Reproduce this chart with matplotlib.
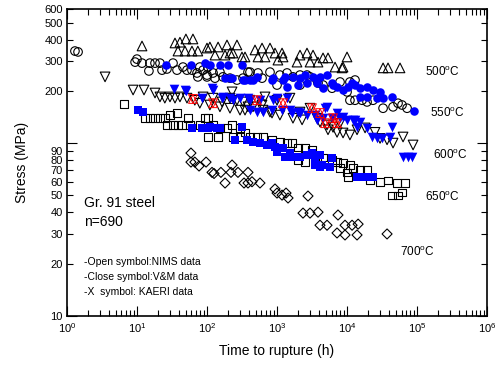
import matplotlib
matplotlib.use("Agg")
import matplotlib.pyplot as plt
from matplotlib.ticker import NullFormatter, FixedLocator, FixedFormatter, LogLocator

plt.rcParams['font.family'] = ['Liberation Sans', 'DejaVu Sans']
plt.rcParams['mathtext.fontset'] = 'custom'
plt.rcParams['mathtext.rm'] = 'Liberation Sans'
plt.rcParams['mathtext.it'] = 'Liberation Sans'

# === Rupture data (time in h, stress in MPa) ===
# 500 C, NIMS (open up-triangles)
t500_nims = [11.8, 34.9, 41.1, 50, 63, 38.5, 48.5, 61, 74, 100, 110, 144, 193, 268, 130, 181,
             213, 235, 316, 349, 485, 611, 794, 535, 674, 936, 1180, 1030, 1220, 2130, 2680,
             3270, 1930, 2960, 3850, 4540, 5350, 6740, 8770, 10000, 8480, 32700, 38500, 57100]
s500_nims = [367, 382, 386, 403, 403, 343, 343, 343, 343, 357, 362, 362, 372, 372, 325, 325,
             334, 334, 317, 317, 348, 357, 357, 317, 317, 334, 334, 304, 317, 325, 334,
             325, 296, 296, 296, 313, 313, 277, 277, 317, 274, 274, 274, 274]

# 550 C, NIMS (open circles)
t550_nims = [1.30, 1.44, 9.4, 10, 11.8, 14.8, 15.3, 18.1, 21.3, 22.8, 26.8, 32.7, 37.3, 45.4,
             51.8, 61, 72, 79, 88, 100, 103, 74, 100, 130, 122, 153, 169, 213, 268, 327, 385,
             411, 535, 794, 611, 1100, 1390, 1690, 2130, 2680, 1000, 2130, 3850, 2960, 3730,
             4540, 6110, 7940, 11000, 13000, 10000, 11000, 13000, 16400, 19300, 23500, 32700,
             45400, 53500, 61000, 72000]
s550_nims = [343, 339, 296, 308, 292, 263, 292, 292, 292, 266, 270, 292, 266, 277,
             266, 266, 256, 277, 266, 249, 277, 243, 243, 239, 256, 259, 243, 239, 233, 239, 259,
             259, 256, 259, 239, 249, 256, 243, 249, 249, 218, 218, 224, 243, 233,
             218, 209, 227, 227, 233, 199, 178, 178, 178, 174, 178, 160,
             163, 171, 167, 160]

# 550 C, V&M (filled circles)
t550_vm = [26, 59, 94, 110, 153, 200, 316, 181, 213, 228, 327, 349, 411, 454, 518, 848, 877,
           1220, 1300, 1390, 1690, 2000, 2130, 2510, 2680, 3270, 3730, 4110, 4540, 5180, 6110,
           6310, 7200, 8770, 10300, 11800, 13000, 15300, 19300, 23500, 29600, 15300, 19300,
           26800, 32700, 44000, 90600]
s550_vm = [285, 285, 292, 285, 285, 285, 285, 239, 239, 239, 233, 233, 233, 233, 243, 233, 239,
           233, 243, 212, 243, 218, 239, 249, 224, 243, 224, 243, 209, 249, 224,
           218, 212, 204, 212, 224, 218, 209, 212, 204, 199, 186, 186,
           183, 183, 186, 154]

# 600 C, NIMS (open down-triangles)
t600_nims = [3.5, 8.8, 12.6, 18.1, 21.3, 25, 29.6, 34.9, 41.1, 51.8, 67, 88, 122, 164, 213, 268,
             327, 385, 79, 110, 153, 213, 296, 228, 411, 674, 611, 794, 1000, 1530, 2130, 2960,
             3730, 5180, 6310, 7940, 349, 454, 631, 848, 1100, 1690, 2280, 4110, 5350, 7200,
             8770, 11000, 13900, 18100, 25100, 29600, 37300, 45400, 63100, 87700]
s600_nims = [243, 204, 204, 196, 186, 183, 186, 183, 186, 183, 178, 186, 183, 174, 183, 178,
             174, 163, 171, 167, 163, 160, 156, 199, 178, 186, 167, 152, 178, 183, 152, 160,
             140, 128, 124, 131, 156, 163, 156, 150, 146, 140, 137, 133, 120, 116,
             115, 112, 120, 123, 116, 107, 105, 100.5, 109, 98]

# 600 C, V&M (filled down-triangles)
t600_vm = [33.8, 48.5, 50, 85, 118, 122, 164, 169, 213, 235, 296, 385, 411, 411, 518, 571, 631,
           848, 877, 1000, 1180, 1390, 1530, 1640, 2000, 2130, 2680, 3490, 3730, 4540, 4850,
           5180, 6110, 7200, 7940, 8770, 10000, 12200, 13000, 13900, 15300, 19300, 22800,
           26800, 31600, 41100, 44000, 63100, 74300, 84800]
s600_vm = [207, 204, 201, 183, 209, 204, 183, 186, 183, 178, 183, 183, 156, 178, 152, 178, 152,
           156, 178, 183, 156, 183, 156, 150, 152, 150, 146, 146, 137, 140, 160,
           163, 140, 150, 140, 142, 137, 137, 137, 124, 133, 123, 109,
           107, 107, 109, 124, 83, 83, 83]

# 600 C, KAERI (red crossed symbols)
t600_kaeri = [63, 122, 518, 1220, 3160, 4110, 4850, 6310, 7200]
s600_kaeri = [181, 171, 178, 171, 160, 150, 131, 140, 131]

# 650 C, NIMS (open squares)
t650_nims = [6.5, 13, 15.3, 18.1, 21.3, 25, 29.6, 37.3, 44, 53.5, 26.8, 32.7, 38.5, 57.1, 79, 94,
             103, 122, 153, 193, 228, 296, 349, 103, 144, 235, 296, 411, 518, 631, 848, 1100,
             1390, 1640, 2000, 2510, 3160, 2000, 2510, 3730, 4540, 6110, 7200, 8770, 11000,
             7940, 10000, 12200, 15300, 19300, 10300, 21300, 29600, 38500, 51800, 67400,
             44000, 53500, 61000]
s650_nims = [169, 140, 140, 140, 140, 140, 146, 150, 128, 140, 128, 128, 128, 128, 128, 140,
             140, 128, 123, 123, 128, 123, 116, 109, 109, 109, 109, 109, 109, 109, 105, 102,
             100.5, 100.5, 95, 94, 92, 80, 78, 82, 83, 80, 78, 77, 75,
             72, 68, 72, 70, 70, 64, 61, 60, 61, 59, 59,
             50, 50, 52]

# 650 C, V&M (filled squares)
t650_vm = [10.3, 12.2, 61, 85, 103, 110, 139, 153, 251, 316, 373, 454, 571, 720, 848, 936, 1000,
           1220, 1300, 1530, 1690, 1930, 2130, 2680, 3160, 3490, 4110, 4390, 3490, 4110, 6110,
           5710, 13900, 16400, 20000, 23500]
s650_vm = [156, 152, 123, 123, 123, 124, 123, 123, 105, 124, 105, 102, 100.5, 98, 100.5, 95, 89,
           94, 83, 88, 83, 83, 83, 86, 88, 83, 86, 75, 75, 73, 82,
           73, 64, 64, 64, 64]

# 700 C, NIMS (open diamonds)
t700_nims = [59, 59, 67, 77, 97, 118, 126, 158, 181, 220, 228, 277, 338, 385, 385, 439, 571, 936,
             1000, 1180, 1345, 1437, 2770, 2350, 2960, 3850, 7430, 4110, 5180, 9360, 11800,
             14400, 7200, 9360, 13900, 37300]
s700_nims = [88, 78, 78, 74, 78, 68, 67, 68, 59, 68, 75, 68, 59, 68, 59, 60, 59, 54.5,
             51.6, 50.2, 51.6, 48.3, 49.6, 39.5, 39.5, 40, 38.5, 33.6, 33.6, 33.6, 33.6,
             34.1, 30.3, 29.5, 29.5, 29.9]

# temperature labels placed at the right end of each band
temp_labels = ['500', '550', '600', '650', '700']
temp_t = [1.3e5, 1.53e5, 1.69e5, 1.3e5, 5.7e4]
temp_s = [259, 150, 86, 49, 23.5]

BLUE = '#0000ff'
RED = '#ff0000'

fig = plt.figure(figsize=(4.96, 3.65), dpi=100)
ax = fig.add_axes([0.135, 0.134, 0.847, 0.841])

open_kw = dict(facecolors='none', edgecolors='black', linewidths=0.8)
ax.scatter(t500_nims, s500_nims, marker='^', s=48, **open_kw)
ax.scatter(t550_nims, s550_nims, marker='o', s=38, **open_kw)
ax.scatter(t600_nims, s600_nims, marker='v', s=48, **open_kw)
ax.scatter(t650_nims, s650_nims, marker='s', s=30, **open_kw)
ax.scatter(t700_nims, s700_nims, marker='D', s=26, **open_kw)

ax.scatter(t550_vm, s550_vm, marker='o', s=38, color=BLUE, linewidths=0)
ax.scatter(t600_vm, s600_vm, marker='v', s=48, color=BLUE, linewidths=0)
ax.scatter(t650_vm, s650_vm, marker='s', s=34, color=BLUE, linewidths=0)

# KAERI symbol: x over an hourglass
for mk in ['x', '^', 'v']:
    ax.scatter(t600_kaeri, s600_kaeri, marker=mk, s=40, facecolors='none',
               edgecolors=RED, color=RED, linewidths=0.7)

ax.set_xscale('log')
ax.set_yscale('log')
ax.set_xlim(1, 1e6)
ax.set_ylim(10, 600)

# x axis: decades with minor ticks
ax.xaxis.set_minor_locator(LogLocator(base=10, subs=range(2, 10), numticks=20))
ax.xaxis.set_minor_formatter(NullFormatter())
ax.set_xticks([10**k for k in range(7)])
ax.set_xticklabels([r'$10^{%d}$' % k for k in range(7)])

# y axis: 10 and 100 as major, the rest labelled minor ticks
ax.yaxis.set_major_locator(FixedLocator([10, 100]))
ax.yaxis.set_major_formatter(FixedFormatter(['10', '']))
yminor = [20, 30, 40, 50, 60, 70, 80, 90, 200, 300, 400, 500, 600]
ax.yaxis.set_minor_locator(FixedLocator(yminor))
ax.yaxis.set_minor_formatter(FixedFormatter([str(v) for v in yminor]))

ax.tick_params(which='both', direction='in', top=True, right=True, labelsize=8,
               width=0.8, colors='black')
ax.tick_params(which='major', length=7)
ax.tick_params(which='minor', length=4)
ax.tick_params(axis='x', which='major', pad=4)
ax.tick_params(axis='y', which='both', pad=3)
for sp in ax.spines.values():
    sp.set_linewidth(1.2)

ax.set_xlabel('Time to rupture (h)', fontsize=10, labelpad=6)
ax.set_ylabel('Stress (MPa)', fontsize=10, labelpad=11)

for lab, tx, ty in zip(temp_labels, temp_t, temp_s):
    ax.text(tx, ty, lab + r'$^{\mathrm{o}}$C', fontsize=8.5, ha='left', va='center')

ax.text(0.04, 0.368, 'Gr. 91 steel', transform=ax.transAxes, fontsize=10, va='center')
ax.text(0.04, 0.307, 'n=690', transform=ax.transAxes, fontsize=10, va='center')
ax.text(0.04, 0.176, '-Open symbol:NIMS data', transform=ax.transAxes, fontsize=7.5, va='center')
ax.text(0.04, 0.127, '-Close symbol:V&M data', transform=ax.transAxes, fontsize=7.5, va='center')
ax.text(0.04, 0.078, '-X  symbol: KAERI data', transform=ax.transAxes, fontsize=7.5, va='center')

fig.savefig('out.png', dpi=100)
